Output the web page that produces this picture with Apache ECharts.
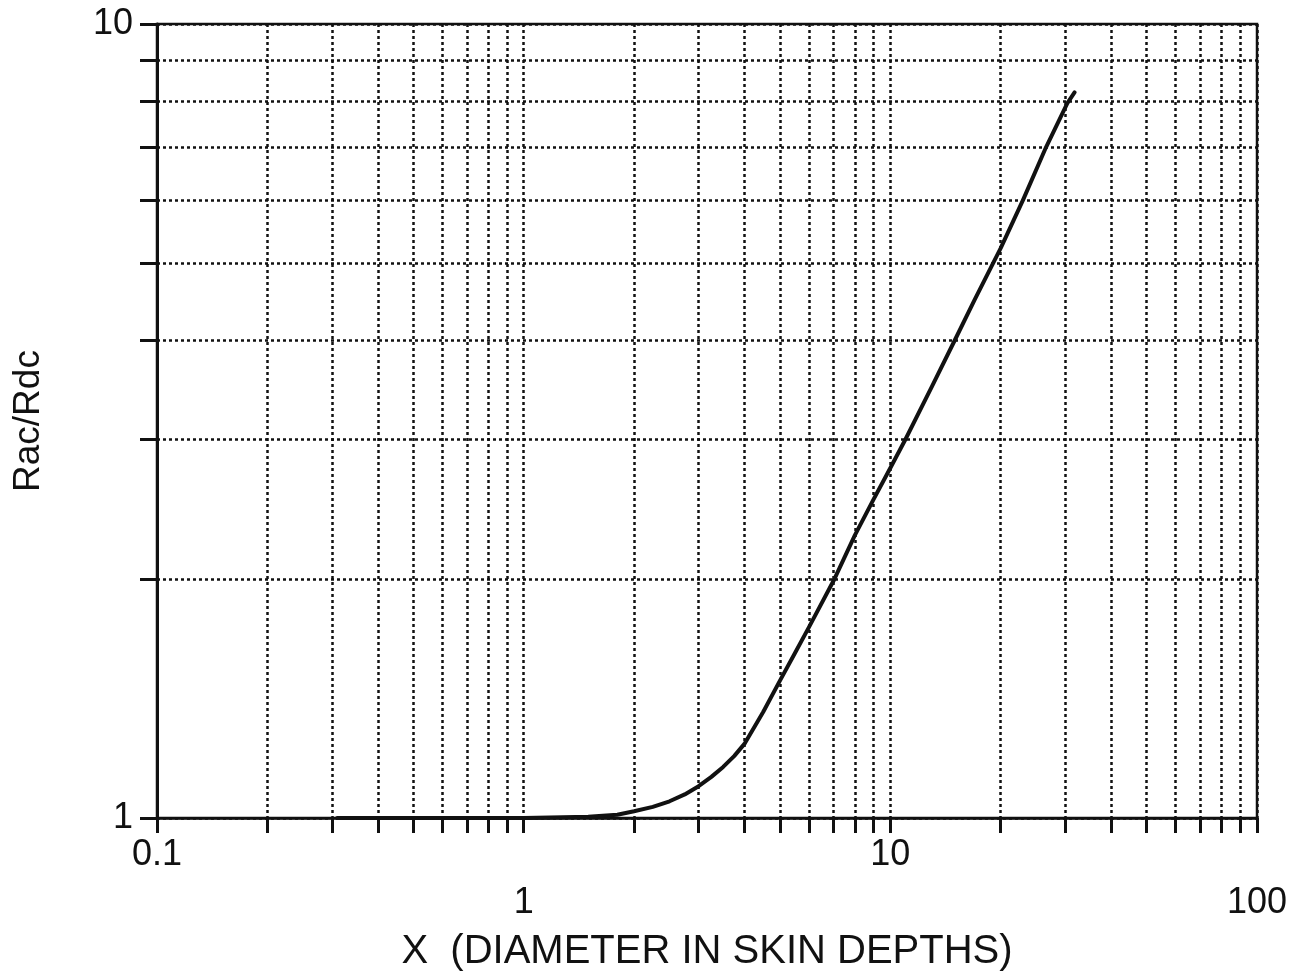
<!DOCTYPE html>
<html>
<head>
<meta charset="utf-8">
<script src="https://cdn.jsdelivr.net/npm/echarts@6/dist/echarts.min.js"></script>
<style>
  html, body { margin: 0; padding: 0; background: #fff; }
  #chart { width: 1297px; height: 977px; }
</style>
</head>
<body>
<div id="chart"></div>
<script>
// tick / grid positions on the log axes
const xTicks = [0.1, 0.2, 0.3, 0.4, 0.5, 0.6, 0.7, 0.8, 0.9,
  1, 2, 3, 4, 5, 6, 7, 8, 9,
  10, 20, 30, 40, 50, 60, 70, 80, 90, 100]
const xLabels = [0.1, 1, 10, 100]
const yTicks = [1, 2, 3, 4, 5, 6, 7, 8, 9, 10]
const yLabels = [1, 10]

// curve: X (diameter in skin depths) vs Rac/Rdc
const xValues = [0.31, 0.5, 1.0, 1.5, 1.8, 2.0, 2.25, 2.5, 2.75, 3.0, 3.25, 3.5, 3.75, 4.0, 4.5, 5.0,
  5.5, 6.0, 7.0, 8.0, 9.0, 10, 11, 13, 15, 17, 20, 23, 26.6, 30.4, 31.8]
const ratioValues = [1.0, 1.0, 1.0, 1.004, 1.01, 1.02, 1.033, 1.05, 1.071, 1.097, 1.127, 1.16, 1.197, 1.24, 1.36, 1.49,
  1.615, 1.74, 1.99, 2.27, 2.52, 2.76, 3.0, 3.5, 4.0, 4.5, 5.22, 6.0, 7.0, 7.95, 8.2]

const ink = '#111'
const font = 'Liberation Sans, Arial, sans-serif'

const chart = echarts.init(document.getElementById('chart'))

const option = {
  backgroundColor: '#fff',
  animation: false,
  grid: {
    left: 157,
    right: 40,
    top: 24,
    bottom: 155,
    show: true,
    borderColor: ink,
    borderWidth: 2.5
  },
  xAxis: {
    type: 'log',
    logBase: 10,
    min: 0.1,
    max: 100,
    name: 'X  (DIAMETER IN SKIN DEPTHS)',
    nameLocation: 'middle',
    nameGap: 110,
    nameTextStyle: { color: ink, fontSize: 40, fontFamily: font },
    axisLine: { lineStyle: { color: ink, width: 2.5 } },
    axisTick: {
      customValues: xTicks,
      length: 15,
      inside: false,
      lineStyle: { color: ink, width: 3 }
    },
    axisLabel: {
      customValues: xLabels,
      margin: 13,
      color: ink,
      fontSize: 36,
      fontFamily: font,
      lineHeight: 48,
      formatter: v => {
        // labels alternate between two rows
        if (v === 1 || v === 100) return '\n' + v
        return String(v)
      }
    },
    splitLine: {
      show: true,
      lineStyle: { color: ink, width: 2.5, type: [3, 3] }
    }
  },
  yAxis: {
    type: 'log',
    logBase: 10,
    min: 1,
    max: 10,
    name: 'Rac/Rdc',
    nameLocation: 'middle',
    nameGap: 110,
    nameRotate: 90,
    nameTextStyle: { color: ink, fontSize: 37, fontFamily: font },
    axisLine: { show: true, lineStyle: { color: ink, width: 3 } },
    axisTick: {
      show: true,
      customValues: yTicks,
      length: 17,
      inside: false,
      lineStyle: { color: ink, width: 3 }
    },
    axisLabel: {
      customValues: yLabels,
      margin: 24,
      color: ink,
      fontSize: 36,
      fontFamily: font
    },
    splitLine: {
      show: true,
      lineStyle: { color: ink, width: 2.5, type: [3, 3] }
    }
  },
  series: [
    {
      type: 'line',
      data: xValues.map((x, i) => [x, ratioValues[i]]),
      showSymbol: false,
      smooth: false,
      lineStyle: { color: ink, width: 4, join: 'round', cap: 'round' },
      z: 5
    }
  ]
}

chart.setOption(option)
</script>
</body>
</html>
